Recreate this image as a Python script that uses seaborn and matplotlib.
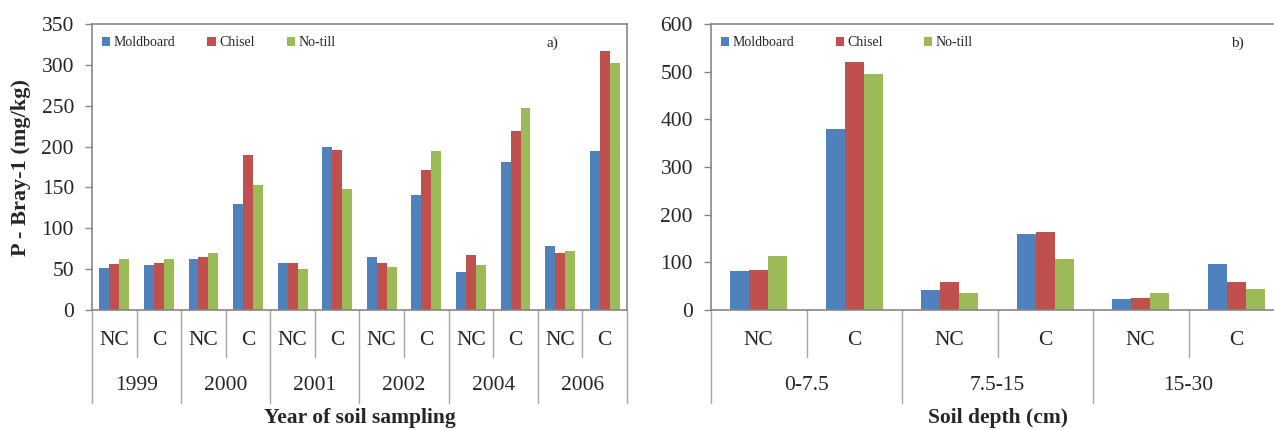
import matplotlib
matplotlib.use("Agg")
import matplotlib.pyplot as plt
import matplotlib.transforms as mtransforms
import pandas as pd
import seaborn as sns

# panel a) - year of soil sampling
years = ['1999', '2000', '2001', '2002', '2004', '2006']
groups = ['NC', 'C']
moldboard_a = [51, 55, 62, 130, 57, 199, 65, 141, 46, 181, 78, 195]
chisel_a = [56, 57, 65, 190, 57, 196, 57, 171, 67, 219, 70, 317]
notill_a = [63, 63, 70, 153, 50, 148, 53, 195, 55, 247, 72, 302]

# panel b) - soil depth
depths = ['0-7.5', '7.5-15', '15-30']
moldboard_b = [81, 380, 43, 159, 23, 97]
chisel_b = [83, 520, 59, 164, 26, 59]
notill_b = [114, 495, 36, 106, 36, 45]

tillage = ['Moldboard', 'Chisel', 'No-till']
colors = ['#4F81BD', '#C0504D', '#9BBB59']

sns.set_style('white')
plt.rcParams['font.family'] = ['Liberation Serif', 'DejaVu Serif']

W, H = 1274, 430
fig = plt.figure(figsize=(W / 100, H / 100), dpi=100)


def make_df(outer, m, c, n):
    keys = [o + ' ' + g for o in outer for g in groups]
    rows = []
    for name, vals in zip(tillage, [m, c, n]):
        for k, v in zip(keys, vals):
            rows.append((k, name, v))
    return keys, pd.DataFrame(rows, columns=['key', 'tillage', 'value'])


def draw_panel(ax, outer, m, c, n, width, ymax, ystep, xlabel, leg_x, colsp):
    keys, df = make_df(outer, m, c, n)
    sns.barplot(data=df, x='key', y='value', hue='tillage', order=keys,
                hue_order=tillage, palette=colors, width=width, saturation=1,
                errorbar=None, ax=ax, linewidth=0)
    ax.set_xlim(-0.5, len(keys) - 0.5)
    ax.set_ylim(0, ymax)
    ax.set_yticks(range(0, ymax + 1, ystep))
    ax.set_xticks([])
    ax.set_xlabel('')
    ax.set_ylabel('')
    for s in ax.spines.values():
        s.set_visible(True)
        s.set_color('#868686')
        s.set_linewidth(1.2)
    ax.tick_params(axis='y', direction='out', length=5, width=1, color='#868686',
                   labelsize=15.5, pad=8, left=True)

    # two-level category axis drawn below the plot
    trans = mtransforms.blended_transform_factory(ax.transData, ax.transAxes)
    for i in range(len(keys) + 1):
        bottom = -0.325 if i % 2 == 0 else -0.164
        ax.plot([i - 0.5, i - 0.5], [0, bottom], transform=trans, color='#A6A6A6',
                lw=1, clip_on=False)
    for i, k in enumerate(keys):
        ax.text(i, -0.105, k.split(' ')[1], transform=trans, ha='center',
                va='center', fontsize=15.5)
    for j, o in enumerate(outer):
        ax.text(2 * j + 0.5, -0.265, o, transform=trans, ha='center',
                va='center', fontsize=15.5)
    ax.text(0.5, -0.378, xlabel, transform=ax.transAxes, ha='center', va='center',
            fontsize=15.5, fontweight='bold')

    ax.legend(loc='center left', bbox_to_anchor=(leg_x, 0.935), ncol=3,
              frameon=False, fontsize=10, handlelength=0.6, handleheight=0.6,
              handletextpad=0.25, columnspacing=colsp, borderaxespad=0)


ax1 = fig.add_axes([92 / W, 1 - 310 / H, (627 - 92) / W, 286 / H])
draw_panel(ax1, years, moldboard_a, chisel_a, notill_a, 0.67, 350, 50,
           'Year of soil sampling', 0.008, 2.3)
ax1.text(0.86, 0.933, 'a)', transform=ax1.transAxes, ha='center', va='center',
         fontsize=11)
ax1.set_ylabel('P - Bray-1 (mg/kg)', fontsize=16, fontweight='bold')
ax1.yaxis.set_label_coords(-0.114, 0.5)

ax2 = fig.add_axes([711 / W, 1 - 310 / H, (1284 - 711) / W, 286 / H])
draw_panel(ax2, depths, moldboard_b, chisel_b, notill_b, 0.6, 600, 100,
           'Soil depth (cm)', 0.008, 2.95)
ax2.text(0.918, 0.933, 'b)', transform=ax2.transAxes, ha='center', va='center',
         fontsize=11)

fig.savefig('out.png', dpi=100)
